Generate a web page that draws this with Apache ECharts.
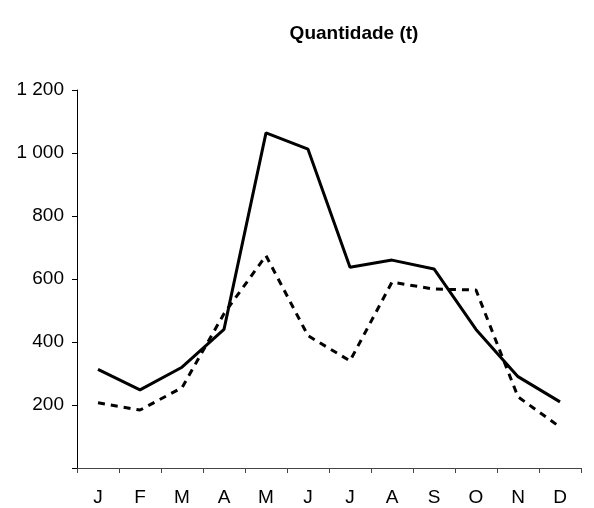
<!DOCTYPE html>
<html>
<head>
<meta charset="utf-8">
<script src="https://cdn.jsdelivr.net/npm/echarts@6/dist/echarts.min.js"></script>
<style>
  html, body { margin: 0; padding: 0; background: #fff; }
  #chart { width: 594px; height: 508px; }
</style>
</head>
<body>
<div id="chart"></div>
<script>
  // meses (iniciais)
  var months = ['J', 'F', 'M', 'A', 'M', 'J', 'J', 'A', 'S', 'O', 'N', 'D'];
  // serie continua
  var solidSeries = [313, 248, 320, 440, 1064, 1012, 637, 660, 632, 440, 290, 210];
  // serie tracejada
  var dashedSeries = [207, 184, 255, 490, 674, 420, 340, 590, 568, 565, 226, 130];
  var yTicks = [0, 200, 400, 600, 800, 1000, 1200];

  var font = 'Liberation Sans, Arial, sans-serif';
  var myChart = echarts.init(document.getElementById('chart'));

  function fmt(v) {
    if (v === 0) return '';
    return String(v).replace(/\B(?=(\d{3})+(?!\d))/g, ' ');
  }

  var option = {
    animation: false,
    title: {
      text: 'Quantidade (t)',
      left: 349,
      top: 19,
      textAlign: 'center',
      textStyle: { fontFamily: font, fontSize: 19, fontWeight: 'bold', color: '#000' }
    },
    grid: { left: 77, right: 13, top: 90, bottom: 40 },
    xAxis: {
      type: 'category',
      data: months,
      boundaryGap: true,
      axisLine: { lineStyle: { color: '#444', width: 1 } },
      axisTick: { show: true, length: 5, lineStyle: { color: '#444' } },
      axisLabel: { interval: 0, margin: 20, fontFamily: font, fontSize: 19, color: '#000' },
      splitLine: { show: false }
    },
    yAxis: {
      type: 'value',
      min: yTicks[0],
      max: yTicks[yTicks.length - 1],
      interval: 200,
      axisLine: { show: true, lineStyle: { color: '#000', width: 1 } },
      axisTick: { show: true, length: 5, lineStyle: { color: '#000' } },
      axisLabel: { margin: 13, fontFamily: font, fontSize: 19, color: '#000', formatter: fmt },
      splitLine: { show: false }
    },
    series: [
      {
        type: 'line',
        data: solidSeries,
        showSymbol: false,
        symbol: 'none',
        lineStyle: { color: '#000', width: 3 }
      },
      {
        type: 'line',
        data: dashedSeries,
        showSymbol: false,
        symbol: 'none',
        lineStyle: { color: '#000', width: 3, type: [7, 6] }
      }
    ]
  };
  myChart.setOption(option);
</script>
</body>
</html>
